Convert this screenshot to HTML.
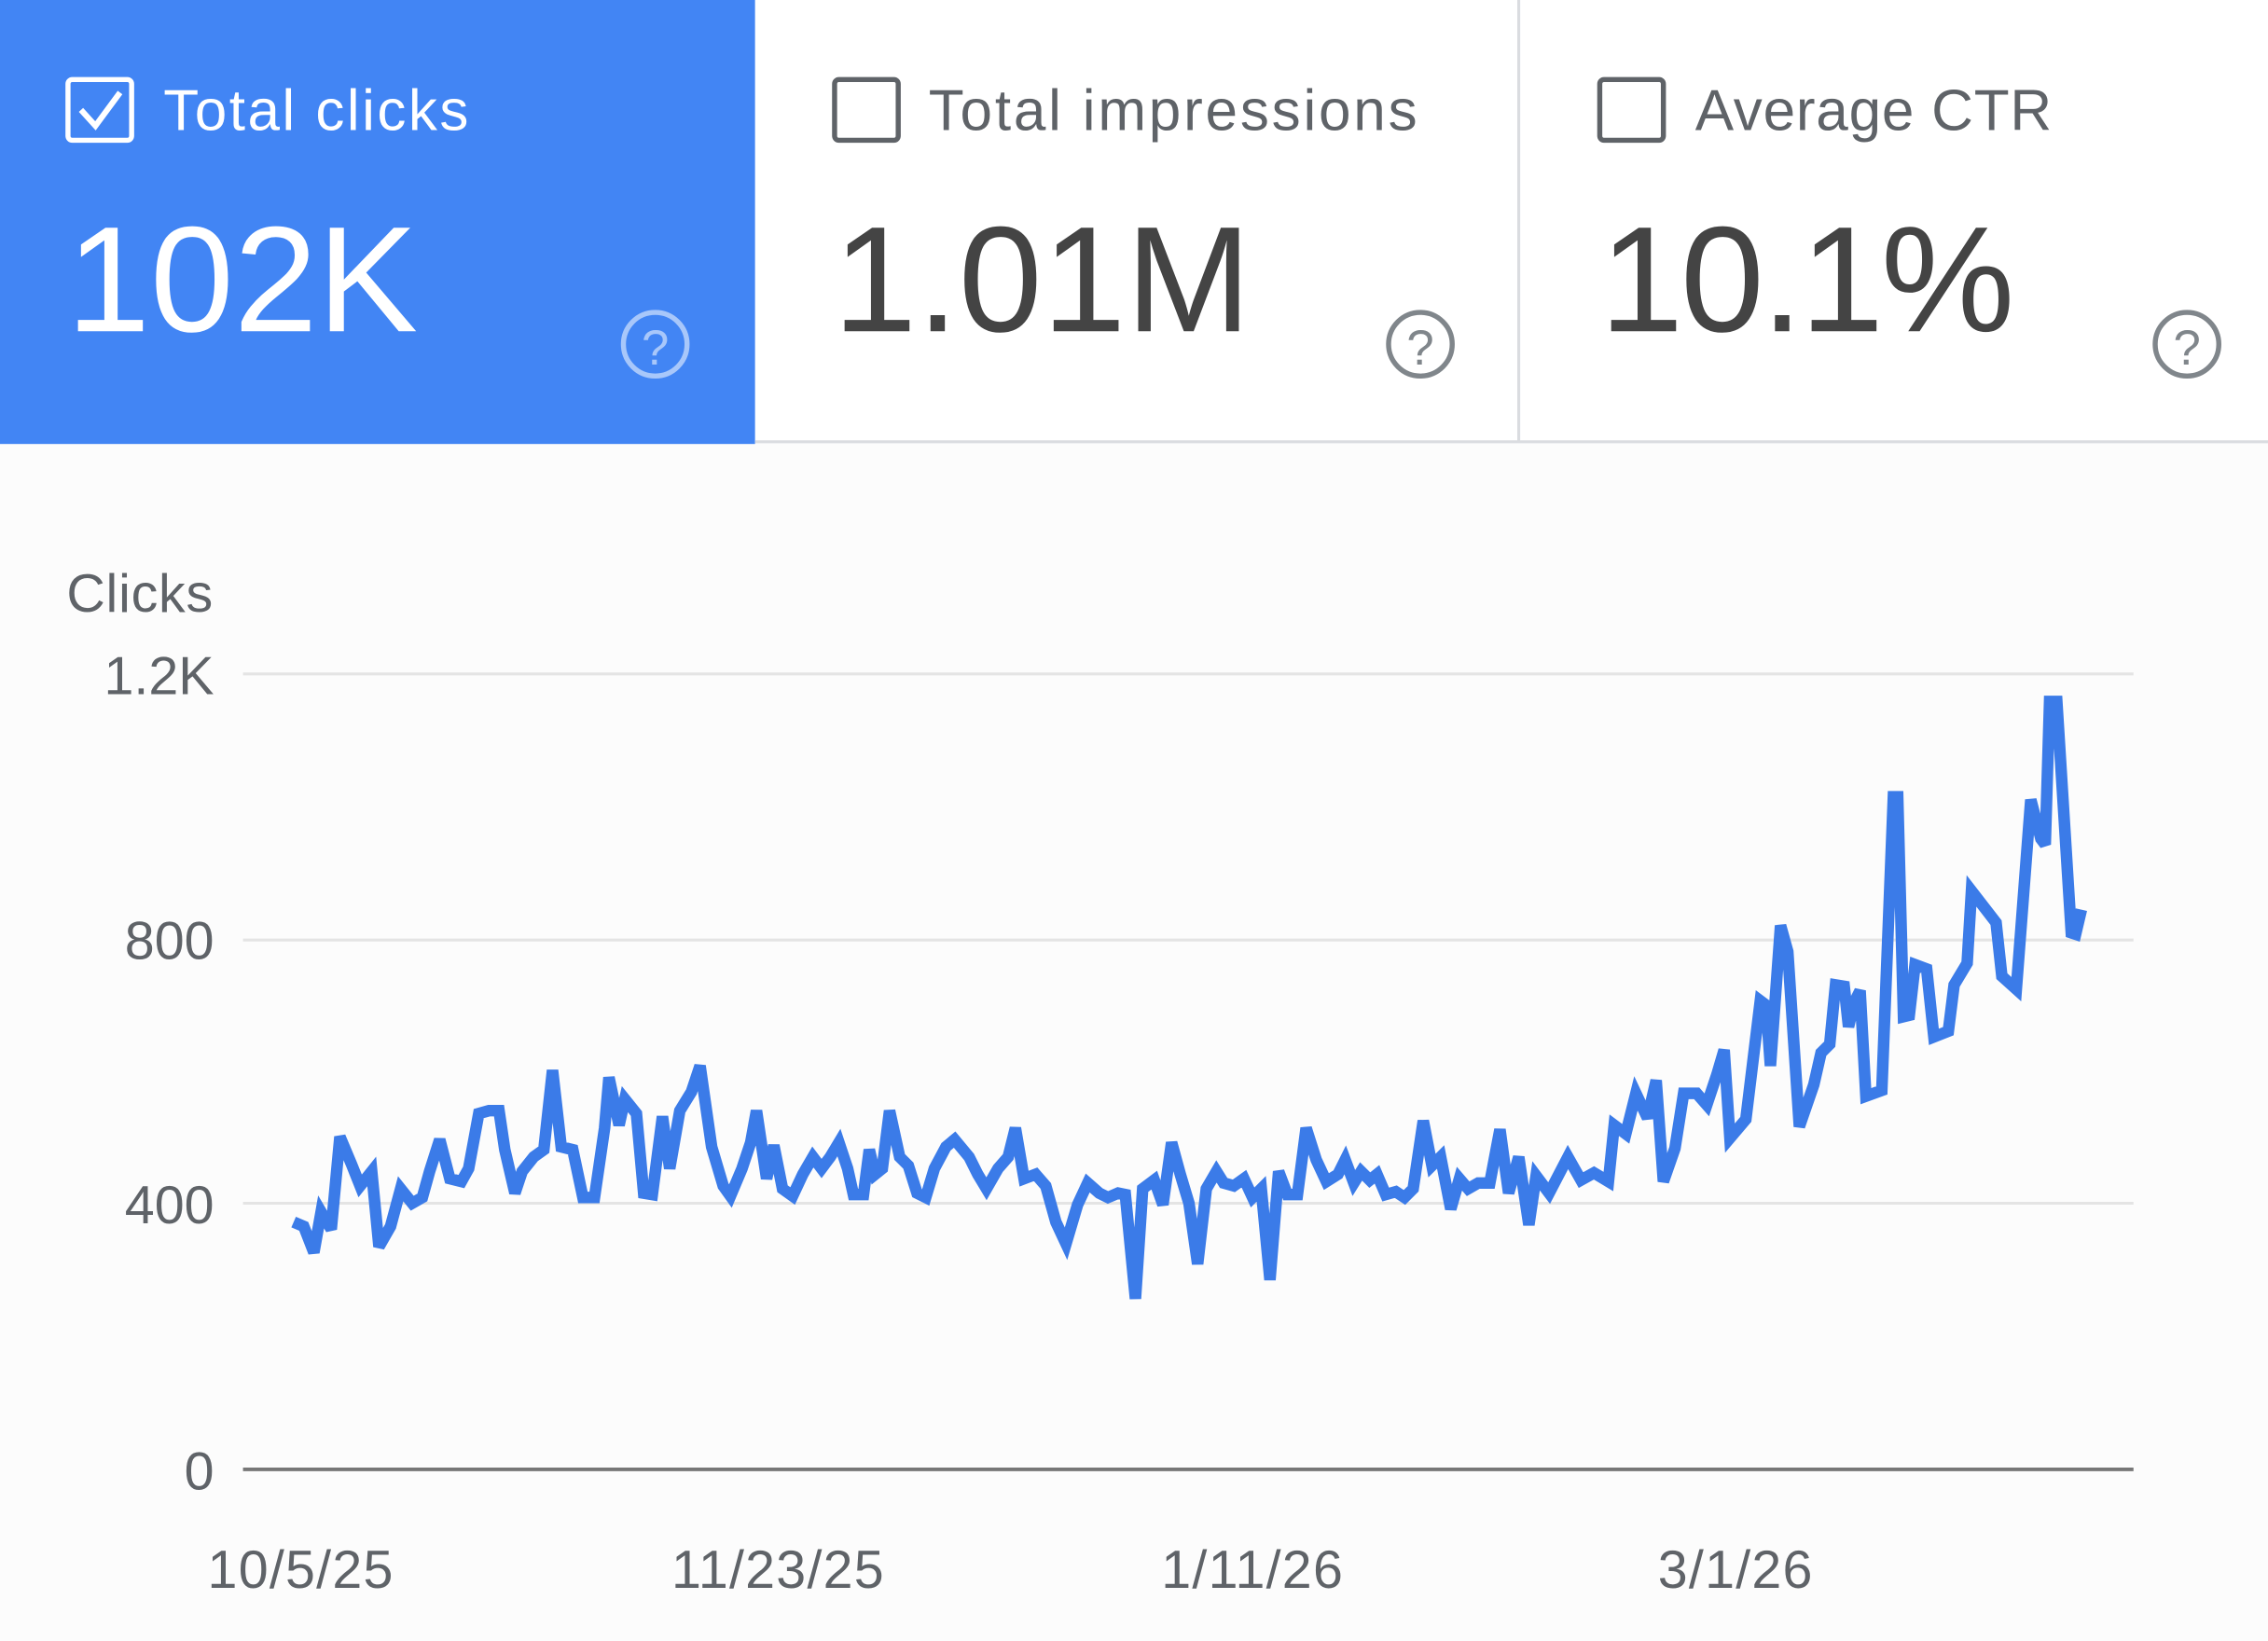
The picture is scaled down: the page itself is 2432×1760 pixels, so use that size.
<!DOCTYPE html>
<html><head><meta charset="utf-8"><style>
html,body{margin:0;padding:0;background:#fcfcfc;}
svg{display:block;}
</style></head><body>
<svg width="2432" height="1760" viewBox="0 0 1568 1134.7" preserveAspectRatio="none" xmlns="http://www.w3.org/2000/svg" font-family="Liberation Sans, Arial, sans-serif">
<rect x="0" y="0" width="1568" height="1135" fill="#fcfcfc"/>
<rect x="0" y="0" width="1568" height="306" fill="#ffffff"/>
<rect x="0" y="0" width="522" height="307" fill="#4285f4"/>
<line x1="522" y1="305.5" x2="1568" y2="305.5" stroke="#dadce0" stroke-width="2"/>
<line x1="1050" y1="0" x2="1050" y2="305" stroke="#dadce0" stroke-width="2"/>
<!-- panel 1 -->
<rect x="47" y="55" width="44" height="42" rx="3" fill="none" stroke="#fff" stroke-width="3.5"/>
<path d="M56 76 L66 87 L83 64" fill="none" stroke="#fff" stroke-width="4"/>
<text x="113" y="90" font-size="40" letter-spacing="1.6" fill="#fff">Total clicks</text>
<text x="46" y="229" font-size="104" fill="#fff">102K</text>
<circle cx="453" cy="238" r="22" fill="none" stroke="#a8c7fa" stroke-width="3.5"/>
<text x="453" y="252" font-size="34" fill="#a8c7fa" text-anchor="middle">?</text>
<!-- panel 2 -->
<rect x="577" y="55" width="44" height="42" rx="3" fill="none" stroke="#5f6368" stroke-width="3.5"/>
<text x="642" y="90" font-size="40" letter-spacing="1.8" fill="#5f6368">Total impressions</text>
<text x="576" y="229" font-size="104" fill="#444">1.01M</text>
<circle cx="982" cy="238" r="22" fill="none" stroke="#80868b" stroke-width="3.5"/>
<text x="982" y="252" font-size="34" fill="#80868b" text-anchor="middle">?</text>
<!-- panel 3 -->
<rect x="1106" y="55" width="44" height="42" rx="3" fill="none" stroke="#5f6368" stroke-width="3.5"/>
<text x="1172" y="90" font-size="40" letter-spacing="0.5" fill="#5f6368">Average CTR</text>
<text x="1106" y="229" font-size="104" letter-spacing="-2" fill="#444">10.1%</text>
<circle cx="1512" cy="238" r="22" fill="none" stroke="#80868b" stroke-width="3.5"/>
<text x="1512" y="252" font-size="34" fill="#80868b" text-anchor="middle">?</text>
<!-- chart -->
<text x="46" y="423" font-size="37" letter-spacing="0.5" fill="#5f6368">Clicks</text>
<g stroke="#e4e4e4" stroke-width="2">
<line x1="168" y1="466" x2="1475" y2="466"/>
<line x1="168" y1="650" x2="1475" y2="650"/>
<line x1="168" y1="832" x2="1475" y2="832"/>
</g>
<line x1="168" y1="1016" x2="1475" y2="1016" stroke="#777" stroke-width="2.5"/>
<g font-size="37" fill="#5f6368" text-anchor="end">
<text x="148" y="480">1.2K</text>
<text x="148" y="663">800</text>
<text x="148" y="846">400</text>
<text x="148" y="1030">0</text>
</g>
<g font-size="37" fill="#5f6368" text-anchor="middle" letter-spacing="0.8">
<text x="208" y="1098">10/5/25</text>
<text x="538" y="1098">11/23/25</text>
<text x="866" y="1098">1/11/26</text>
<text x="1200" y="1098">3/1/26</text>
</g>
<polyline fill="none" stroke="#3b7be8" stroke-width="8" stroke-linejoin="miter" stroke-miterlimit="3" points="
203,845 210,848 217,866 222,838 229,850 235,786 243,805 249,820 257,810 262,862 270,848 277,822 285,832 292,828 297,810 304,788 311,815 319,817 324,808 331,770 338,768 345,768 349,795 356,825 361,810 369,800 376,795 382,740 388,793 396,795 403,828 411,828 418,780 421,745 428,778 432,760 440,770 445,825 451,826 458,772 463,808 470,768 478,755 484,737 492,793 500,820 505,827 513,808 519,790 523,768 530,815 535,792 541,822 548,827 555,812 562,800 568,808 574,800 580,790 586,808 590,826 597,826 601,795 605,812 610,808 615,768 622,800 628,806 634,825 640,828 646,808 654,793 660,788 670,800 676,812 682,822 690,808 697,800 702,780 708,815 716,812 723,820 730,845 737,860 745,833 752,818 760,825 766,828 773,825 778,826 785,898 790,822 798,816 804,833 810,790 816,812 822,832 828,874 834,822 841,810 846,818 853,820 860,815 866,828 872,822 878,885 884,810 890,826 897,826 903,780 910,802 917,817 925,812 930,802 936,818 941,810 947,816 952,812 958,826 965,824 971,828 977,822 984,775 990,806 996,800 1003,836 1009,815 1015,822 1022,818 1030,818 1037,781 1043,825 1050,800 1057,847
1062,813 1071,825 1084,800 1093,816 1102,811 1112,817 1116,778 1124,784 1131,756 1139,773 1145,747 1150,817 1158,794 1164,756 1173,756 1180,764 1187,743 1192,726 1196,787 1207,774 1217,692 1221,695 1224,737 1231,640 1236,658 1244,779 1254,750 1259,728 1265,722 1269,681 1275,682 1278,710 1282,693 1286,685 1290,758 1301,754 1309,551 1312,551 1316,703 1320,702 1324,667 1332,670 1337,717 1347,713 1351,681 1360,666 1363,616 1380,638 1384,675 1394,684 1404,553 1411,580 1414,584 1417,485 1422,485 1432,645 1435,646 1439,629"/>
</svg>
</body></html>
